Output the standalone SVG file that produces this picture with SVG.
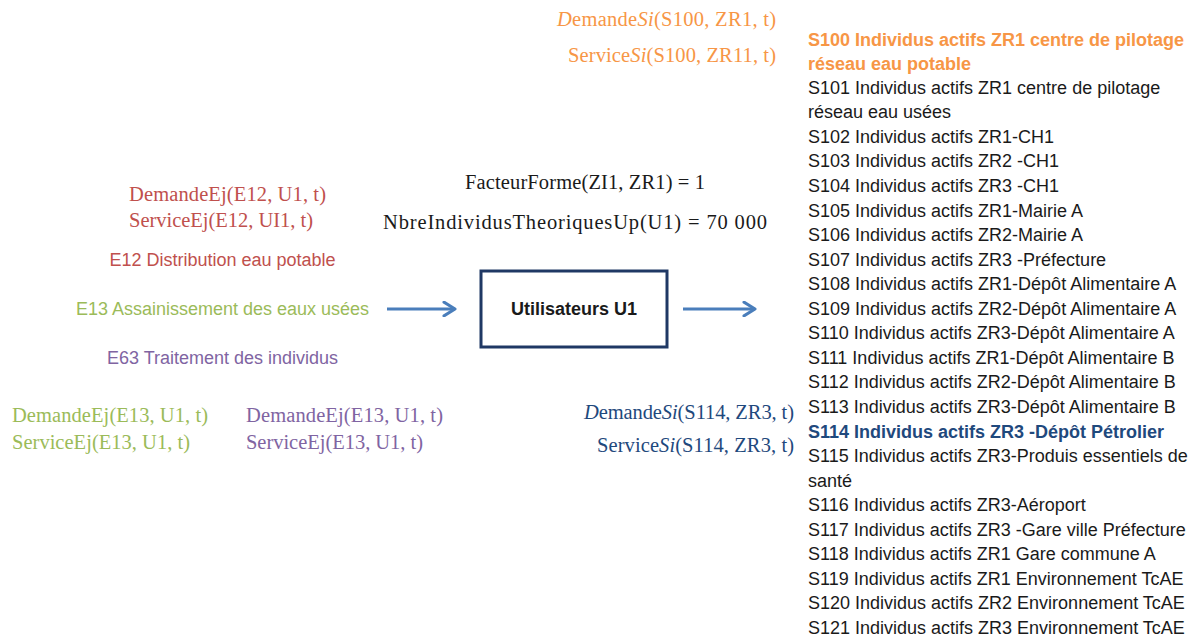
<svg xmlns="http://www.w3.org/2000/svg" width="1203" height="637" viewBox="0 0 1203 637">
<style>
.s{font-family:"Liberation Sans",Arial,sans-serif;font-size:18px;fill:#1a1a1a}
.m{font-family:"Liberation Serif","Times New Roman",serif;font-size:20.5px;fill:#1a1a1a}
.i{font-style:italic}
.or{fill:#f79646}
.rd{fill:#c0504d}
.gr{fill:#9bbb59}
.pu{fill:#8064a2}
.nv{fill:#1f497d}
.b{font-weight:bold}
.arr{stroke:#4a7ebb;stroke-width:3;fill:none}
</style>
<defs>
<marker id="ah" viewBox="0 0 12 12" refX="10" refY="6" markerWidth="5.5" markerHeight="5.5" orient="auto" markerUnits="strokeWidth">
<path d="M2,1 L10,6 L2,11" fill="none" stroke="#4a7ebb" stroke-width="2.2" stroke-linecap="round" stroke-linejoin="round"/>
</marker>
</defs>
<g id="connectors">
<line class="arr" x1="387" y1="309" x2="455" y2="309" marker-end="url(#ah)"/>
<line class="arr" x1="683" y1="309" x2="755" y2="309" marker-end="url(#ah)"/>
</g>
<g id="node-u1">
<rect x="481" y="271" width="186" height="76" fill="#fff" stroke="#1f3864" stroke-width="3"/>
<text class="s b" x="574" y="315" text-anchor="middle">Utilisateurs U1</text>
</g>
<g id="params">
<text class="m" x="465" y="189" textLength="240" lengthAdjust="spacing">FacteurForme(ZI1, ZR1) = 1</text>
<text class="m" x="383" y="229" textLength="384" lengthAdjust="spacing">NbreIndividusTheoriquesUp(U1) = 70 000</text>
</g>
<g id="node-s100-eq">
<text class="m or" x="557" y="26" textLength="219" lengthAdjust="spacing"><tspan class="i">D</tspan>emande<tspan class="i">Si</tspan>(S100, ZR1, t)</text>
<text class="m or" x="568" y="62" textLength="208" lengthAdjust="spacing">Service<tspan class="i">Si</tspan>(S100, ZR11, t)</text>
</g>
<g id="node-e12">
<text class="m rd" x="129" y="201" textLength="197" lengthAdjust="spacing">DemandeEj(E12, U1, t)</text>
<text class="m rd" x="129" y="227" textLength="184" lengthAdjust="spacing">ServiceEj(E12, UI1, t)</text>
<text class="s rd" x="222.5" y="266" text-anchor="middle">E12 Distribution eau potable</text>
</g>
<g id="node-e13">
<text class="s gr" x="222.5" y="315" text-anchor="middle">E13 Assainissement des eaux usées</text>
<text class="m gr" x="12" y="422" textLength="196" lengthAdjust="spacing">DemandeEj(E13, U1, t)</text>
<text class="m gr" x="12" y="449" textLength="178" lengthAdjust="spacing">ServiceEj(E13, U1, t)</text>
</g>
<g id="node-e63">
<text class="s pu" x="222.5" y="364" text-anchor="middle">E63 Traitement des individus</text>
<text class="m pu" x="246" y="422" textLength="197" lengthAdjust="spacing">DemandeEj(E13, U1, t)</text>
<text class="m pu" x="246" y="449" textLength="177" lengthAdjust="spacing">ServiceEj(E13, U1, t)</text>
</g>
<g id="node-s114-eq">
<text class="m nv" x="584" y="419" textLength="210" lengthAdjust="spacing"><tspan class="i">D</tspan>emande<tspan class="i">Si</tspan>(S114, ZR3, t)</text>
<text class="m nv" x="597" y="452" textLength="197" lengthAdjust="spacing">Service<tspan class="i">Si</tspan>(S114, ZR3, t)</text>
</g>
<g id="node-list">
<text class="s or b" x="808" y="46">S100 Individus actifs ZR1 centre de pilotage</text>
<text class="s or b" x="808" y="70">réseau eau potable</text>
<text class="s" x="808" y="94">S101 Individus actifs ZR1 centre de pilotage</text>
<text class="s" x="808" y="118">réseau eau usées</text>
<text class="s" x="808" y="143">S102 Individus actifs ZR1-CH1</text>
<text class="s" x="808" y="167">S103 Individus actifs ZR2 -CH1</text>
<text class="s" x="808" y="192">S104 Individus actifs ZR3 -CH1</text>
<text class="s" x="808" y="217">S105 Individus actifs ZR1-Mairie A</text>
<text class="s" x="808" y="241">S106 Individus actifs ZR2-Mairie A</text>
<text class="s" x="808" y="266">S107 Individus actifs ZR3 -Préfecture</text>
<text class="s" x="808" y="290">S108 Individus actifs ZR1-Dépôt Alimentaire A</text>
<text class="s" x="808" y="315">S109 Individus actifs ZR2-Dépôt Alimentaire A</text>
<text class="s" x="808" y="339">S110 Individus actifs ZR3-Dépôt Alimentaire A</text>
<text class="s" x="808" y="364">S111 Individus actifs ZR1-Dépôt Alimentaire B</text>
<text class="s" x="808" y="388">S112 Individus actifs ZR2-Dépôt Alimentaire B</text>
<text class="s" x="808" y="413">S113 Individus actifs ZR3-Dépôt Alimentaire B</text>
<text class="s nv b" x="808" y="438">S114 Individus actifs ZR3 -Dépôt Pétrolier</text>
<text class="s" x="808" y="462">S115 Individus actifs ZR3-Produis essentiels de</text>
<text class="s" x="808" y="487">santé</text>
<text class="s" x="808" y="511">S116 Individus actifs ZR3-Aéroport</text>
<text class="s" x="808" y="536">S117 Individus actifs ZR3 -Gare ville Préfecture</text>
<text class="s" x="808" y="560">S118 Individus actifs ZR1 Gare commune A</text>
<text class="s" x="808" y="585">S119 Individus actifs ZR1 Environnement TcAE</text>
<text class="s" x="808" y="609">S120 Individus actifs ZR2 Environnement TcAE</text>
<text class="s" x="808" y="634">S121 Individus actifs ZR3 Environnement TcAE</text>
</g>
</svg>
